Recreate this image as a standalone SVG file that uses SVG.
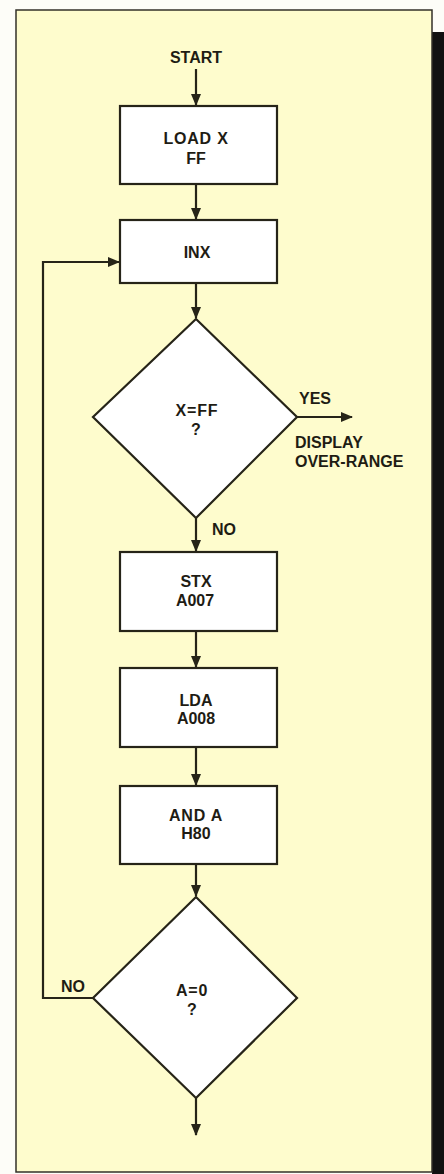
<svg xmlns="http://www.w3.org/2000/svg" width="444" height="1174" viewBox="0 0 444 1174">
<style>
.box{fill:#ffffff;stroke:#262418;stroke-width:2.2}
.ln{fill:none;stroke:#262418;stroke-width:2.2}
.t{font-family:"Liberation Sans",Arial,sans-serif;font-weight:bold;font-size:16px;fill:#1e1c14;text-anchor:middle}
.l{font-family:"Liberation Sans",Arial,sans-serif;font-weight:bold;font-size:16px;fill:#1e1c14}
</style>
<defs>
<marker id="ah" markerWidth="12" markerHeight="10" refX="11" refY="5" orient="auto" markerUnits="userSpaceOnUse">
<path d="M0,0 L12,5 L0,10 Z" fill="#262418"/>
</marker>
</defs>
<rect x="0" y="0" width="444" height="1174" fill="#fdfdf8"/>
<rect x="432" y="32" width="12" height="1142" fill="#111"/>
<rect x="16" y="10" width="416" height="1162" fill="#fefccd" stroke="#333028" stroke-width="1.5"/>
<g id="start"><text class="t" x="196" y="63" font-size="15">START</text></g>
<g id="connectors">
<line class="ln" x1="196" y1="69" x2="196" y2="105" marker-end="url(#ah)"/>
<line class="ln" x1="196" y1="184" x2="196" y2="219" marker-end="url(#ah)"/>
<line class="ln" x1="196" y1="283" x2="196" y2="318" marker-end="url(#ah)"/>
<line class="ln" x1="297" y1="417" x2="352" y2="417" marker-end="url(#ah)"/>
<line class="ln" x1="196" y1="518" x2="196" y2="551" marker-end="url(#ah)"/>
<line class="ln" x1="196" y1="631" x2="196" y2="667" marker-end="url(#ah)"/>
<line class="ln" x1="196" y1="747" x2="196" y2="785" marker-end="url(#ah)"/>
<line class="ln" x1="196" y1="864" x2="196" y2="896" marker-end="url(#ah)"/>
<polyline class="ln" points="93,998 43,998 43,262 119,262" marker-end="url(#ah)"/>
<line class="ln" x1="196" y1="1098" x2="196" y2="1135" marker-end="url(#ah)"/>
<text class="l" x="299" y="404">YES</text>
<text class="l" x="212" y="535">NO</text>
<text class="l" x="61" y="992">NO</text>
</g>
<g id="load"><rect class="box" x="120" y="106" width="157" height="78"/><text class="t" x="196" y="144" letter-spacing="0.8">LOAD X</text><text class="t" x="196" y="164">FF</text></g>
<g id="inx"><rect class="box" x="120" y="220" width="157" height="63"/><text class="t" x="197" y="258">INX</text></g>
<g id="dec1"><polygon class="box" points="196,319 297,417 196,518 93,417"/><text class="t" x="197" y="416" letter-spacing="0.8">X=FF</text><text class="t" x="196" y="435">?</text></g>
<g id="display"><text class="l" x="295" y="448">DISPLAY</text><text class="l" x="295" y="467">OVER-RANGE</text></g>
<g id="stx"><rect class="box" x="120" y="552" width="157" height="79"/><text class="t" x="196" y="587">STX</text><text class="t" x="195" y="606">A007</text></g>
<g id="lda"><rect class="box" x="120" y="668" width="157" height="79"/><text class="t" x="196" y="706">LDA</text><text class="t" x="196" y="724">A008</text></g>
<g id="and"><rect class="box" x="120" y="786" width="157" height="78"/><text class="t" x="196" y="821" letter-spacing="0.8">AND A</text><text class="t" x="196" y="839">H80</text></g>
<g id="dec2"><polygon class="box" points="196,897 297,998 196,1098 93,998"/><text class="t" x="192" y="996" letter-spacing="0.8">A=0</text><text class="t" x="192" y="1015">?</text></g>
</svg>
